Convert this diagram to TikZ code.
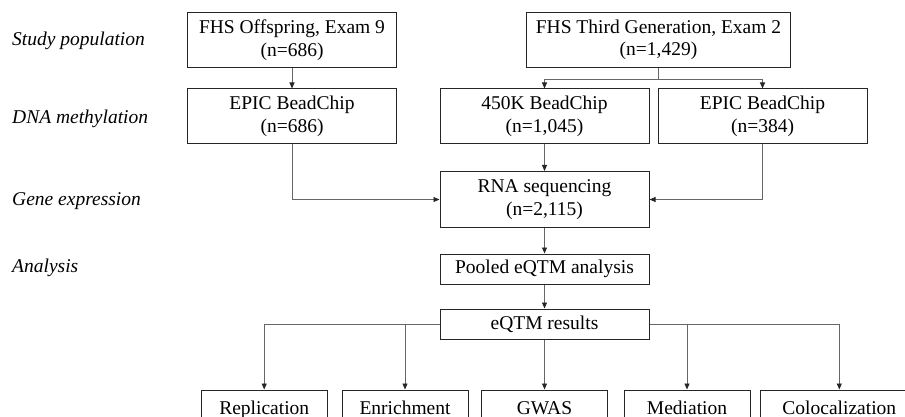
\documentclass[tikz,border=0pt]{standalone}
\usepackage{fontspec}
\setmainfont{Liberation Serif}
\usetikzlibrary{arrows.meta}

\begin{document}
\begin{tikzpicture}[x=1pt, y=-1pt,
    every node/.style={font=\fontsize{19.5}{22.5}\selectfont, inner sep=0pt},
    box/.style={draw=black!85, line width=1pt, align=center,
        minimum width=209pt, minimum height=55pt},
    leaf/.style={box, minimum width=126pt, minimum height=40pt,
        text height=13pt, text depth=4pt},
    stage/.style={anchor=west, font=\fontsize{19.5}{22.5}\selectfont\itshape},
    link/.style={draw=black!60, line width=0.9pt,
        -{Triangle[length=6pt, width=5pt, color=black!85]}}]

    \useasboundingbox (0, 0) rectangle (905, 417);
    \clip (0, 0) rectangle (905, 417);

    % row labels
    \node[stage] (popul) at (12, 41) {Study population};
    \node[stage] (methyl) at (12, 119) {DNA methylation};
    \node[stage] (express) at (12, 201) {Gene expression};
    \node[stage] (analys) at (12, 268) {Analysis};

    \node[box] (offspring) at (292, 40) {FHS Offspring, Exam 9\\(n=686)};
    \node[box, minimum width=264pt] (thirdgen) at (658.5, 40) {FHS Third Generation, Exam 2\\(n=1,429)};

    \node[box] (epicoff) at (292, 116.5) {EPIC BeadChip\\(n=686)};
    \node[box] (k450) at (544.5, 116.5) {450K BeadChip\\(n=1,045)};
    \node[box] (epicthird) at (762.5, 116.5) {EPIC BeadChip\\(n=384)};

    \node[box, minimum height=56pt] (rna) at (544.5, 199.5) {RNA sequencing\\(n=2,115)};
    \node[box, minimum height=30pt] (pooled) at (544.5, 269) {Pooled eQTM analysis};
    \node[box, minimum height=30pt] (results) at (544.5, 324) {eQTM results};

    \foreach \name/\x/\txt in {repl/264.2/Replication, enrich/405/Enrichment,
        gwas/544.5/GWAS, medi/687/Mediation}
        \node[leaf] (\name) at (\x, 410) {\txt};
    \node[leaf, minimum width=158pt] (coloc) at (839.3, 410) {Colocalization};

    \coordinate (split) at (658.5, 79);

    \draw[link] (offspring.south) -- (epicoff.north);
    \draw[link] (thirdgen.south) -- (split) -| (k450.north);
    \draw[link] (split) -| (epicthird.north);

    \draw[link] (epicoff.south) |- (rna.west);
    \draw[link] (k450.south) -- (rna.north);
    \draw[link] (epicthird.south) |- (rna.east);

    \draw[link] (rna.south) -- (pooled.north);
    \draw[link] (pooled.south) -- (results.north);

    \foreach \target in {repl, enrich}
        \draw[link] (results.west) -| (\target.north);
    \draw[link] (results.south) -- (gwas.north);
    \foreach \target in {medi, coloc}
        \draw[link] (results.east) -| (\target.north);
\end{tikzpicture}
\end{document}
